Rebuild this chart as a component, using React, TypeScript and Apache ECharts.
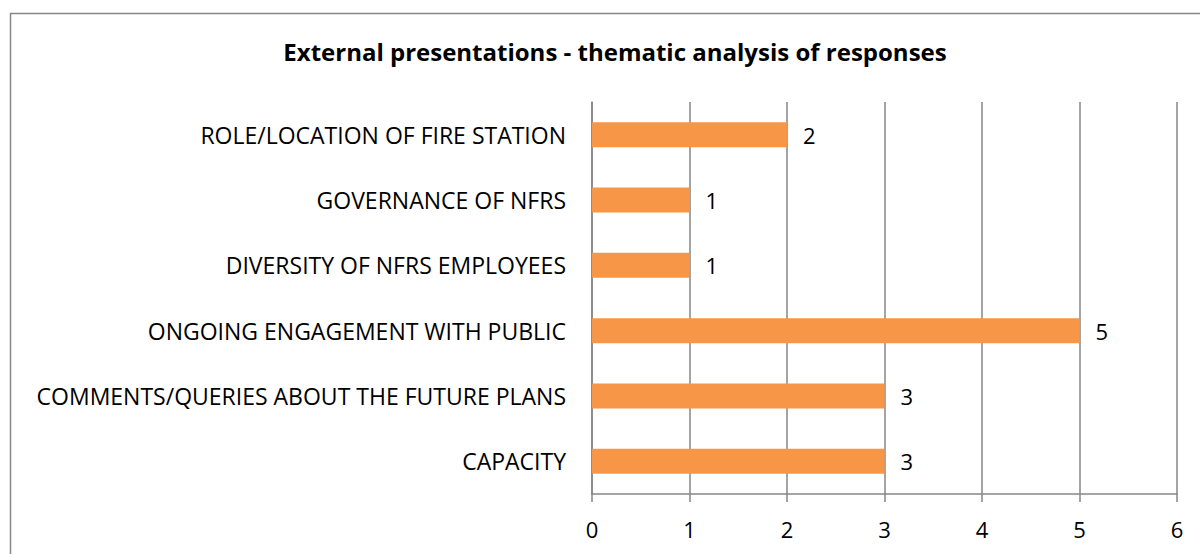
import React, { useEffect, useRef } from "react";
import * as echarts from "echarts";

const categories = [
  "ROLE/LOCATION OF FIRE STATION",
  "GOVERNANCE OF NFRS",
  "DIVERSITY OF NFRS EMPLOYEES",
  "ONGOING ENGAGEMENT WITH PUBLIC",
  "COMMENTS/QUERIES ABOUT THE FUTURE PLANS",
  "CAPACITY",
];
const values = [2, 1, 1, 5, 3, 3];
const titleText = "External presentations - thematic analysis of responses";

const FONT = "'Open Sans', 'Liberation Sans', sans-serif";

export default function App() {
  const ref = useRef<HTMLDivElement>(null);
  useEffect(() => {
    if (!ref.current) return;
    const chart = echarts.init(ref.current, null, { renderer: "svg" });
    chart.setOption({
      animation: false,
      backgroundColor: "#ffffff",
      title: {
        text: titleText,
        left: 610,
        textAlign: "center",
        top: 34,
        textStyle: { fontFamily: FONT, fontSize: 24, fontWeight: "bold", color: "#000" },
      },
      graphic: [
        {
          type: "rect",
          shape: { x: 10.5, y: 13.5, width: 1300, height: 700 },
          style: { fill: "none", stroke: "#868686", lineWidth: 1.5 },
          silent: true,
        },
      ],
      grid: { left: 592, right: 23, top: 102, bottom: 60, containLabel: false },
      xAxis: {
        type: "value",
        min: 0,
        max: 6,
        interval: 1,
        axisLine: { show: true, lineStyle: { color: "#868686", width: 1.5 } },
        axisTick: { show: true, length: 8, lineStyle: { color: "#868686", width: 1.5 } },
        splitLine: { show: true, lineStyle: { color: "#868686", width: 1.5 } },
        axisLabel: { margin: 24, fontFamily: FONT, fontSize: 22, color: "#000" },
      },
      yAxis: {
        type: "category",
        inverse: true,
        data: categories,
        axisLine: { show: true, lineStyle: { color: "#868686", width: 1.5 } },
        axisTick: { show: false },
        axisLabel: { margin: 26, fontFamily: FONT, fontSize: 23, color: "#000" },
      },
      series: [
        {
          type: "bar",
          data: values,
          barWidth: 25,
          itemStyle: { color: "#F79646" },
          label: {
            show: true,
            position: "right",
            distance: 16,
            fontFamily: FONT,
            fontSize: 22,
            color: "#000",
          },
        },
      ],
    });
    return () => chart.dispose();
  }, []);
  return (
    <div
      ref={ref}
      style={{ position: "fixed", left: 0, top: 0, width: 1200, height: 554 }}
    />
  );
}
